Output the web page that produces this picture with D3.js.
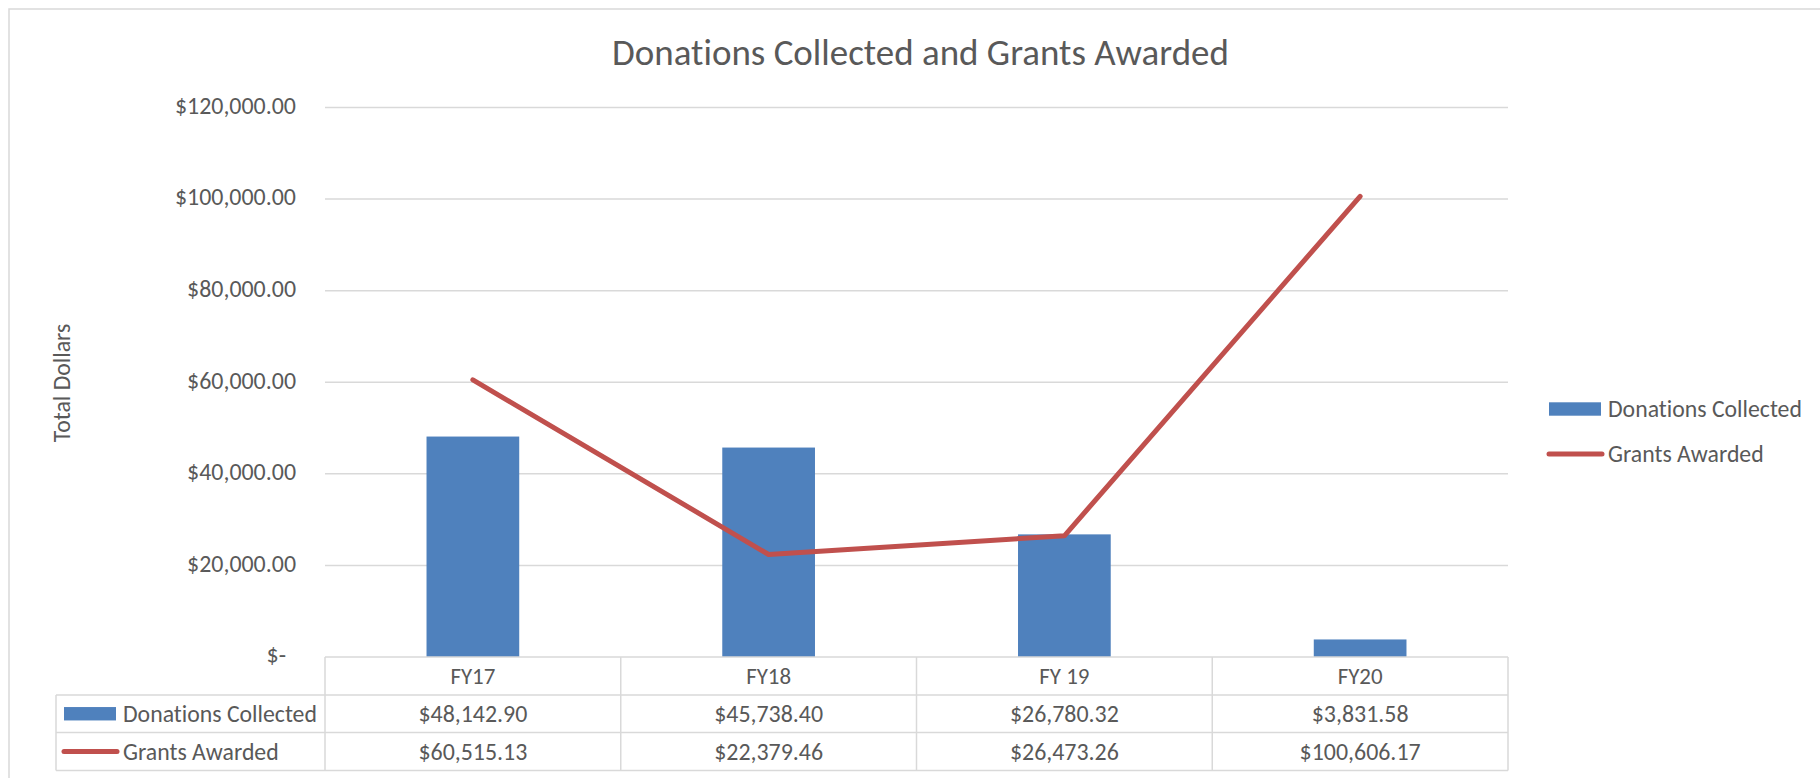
<!DOCTYPE html>
<html>
<head>
<meta charset="utf-8">
<script src="https://cdn.jsdelivr.net/npm/d3@7"></script>
<style>
  body { margin: 0; background: #fff; }
  text { font-family: Carlito, Calibri, Lato, sans-serif; fill: #595959; font-variant-ligatures: none; font-feature-settings: "liga" 0; }
</style>
</head>
<body>
<div id="vis"></div>
<script>
// chart data
const categories = ["FY17", "FY18", "FY 19", "FY20"];
const donations = [48142.90, 45738.40, 26780.32, 3831.58];
const grants = [60515.13, 22379.46, 26473.26, 100606.17];
const yTicks = [0, 20000, 40000, 60000, 80000, 100000, 120000];
const seriesNames = ["Donations Collected", "Grants Awarded"];

const width = 1820;
const height = 778;

// plot area
const plot = { left: 325, right: 1508, top: 107.5, bottom: 657 };
// table rows under the plot
const tableLeft = 56;
const rowLines = [657, 695, 732.5, 770.5];

const barColour = "#4F81BD";
const lineColour = "#C0504D";
const gridColour = "#D9D9D9";

const svg = d3.select("#vis").append("svg")
  .attr("width", width)
  .attr("height", height);

// Calibri isn't around, so size the fallback font to the widths Excel drew
function fitSize(sample, target) {
  const t = svg.append("text").style("font-size", "100px").text(sample);
  const w = t.node().getComputedTextLength();
  t.remove();
  return (100 * target / w).toFixed(2) + "px";
}
const titleSize = fitSize("Donations Collected and Grants Awarded", 617);
const labelSize = fitSize("Donations Collected", 194);
const numSize = fitSize("$48,142.90", 109);
const catSize = fitSize("FY17", 45);

// outer chart border (runs off the right and bottom of the window)
svg.append("rect")
  .attr("x", 9).attr("y", 9)
  .attr("width", width + 20).attr("height", height + 20)
  .attr("fill", "none")
  .attr("stroke", gridColour)
  .attr("stroke-width", 1.5);

const x = d3.scaleBand()
  .domain(categories)
  .range([plot.left, plot.right])
  .padding(0);

const y = d3.scaleLinear()
  .domain([0, 120000])
  .range([plot.bottom, plot.top]);

const money = d3.format("$,.2f");

// gridlines
svg.append("g").selectAll("line")
  .data(yTicks.filter(d => d > 0))
  .enter().append("line")
  .attr("x1", plot.left).attr("x2", plot.right)
  .attr("y1", d => y(d)).attr("y2", d => y(d))
  .attr("stroke", gridColour)
  .attr("stroke-width", 1.5);

// y axis labels
svg.append("g").selectAll("text")
  .data(yTicks)
  .enter().append("text")
  .attr("x", d => d === 0 ? 286 : 296)
  .attr("y", d => y(d) - 2)
  .attr("dy", "0.35em")
  .attr("text-anchor", "end")
  .style("font-size", numSize)
  .text(d => d === 0 ? "$-" : money(d));

// axis title
svg.append("text")
  .attr("transform", "translate(62,383) rotate(-90)")
  .attr("text-anchor", "middle")
  .attr("dy", "0.35em")
  .style("font-size", labelSize)
  .text("Total Dollars");

// chart title
svg.append("text")
  .attr("x", 920.5).attr("y", 64.5)
  .attr("text-anchor", "middle")
  .style("font-size", titleSize)
  .text("Donations Collected and Grants Awarded");

// bars (gap width ~219%)
const barW = x.bandwidth() / 3.19;
svg.append("g").selectAll("rect")
  .data(donations)
  .enter().append("rect")
  .attr("x", (d, i) => x(categories[i]) + (x.bandwidth() - barW) / 2)
  .attr("width", barW)
  .attr("y", d => y(d))
  .attr("height", d => y(0) - y(d))
  .attr("fill", barColour);

// line
const line = d3.line()
  .x((d, i) => x(categories[i]) + x.bandwidth() / 2)
  .y(d => y(d));

svg.append("path")
  .datum(grants)
  .attr("d", line)
  .attr("fill", "none")
  .attr("stroke", lineColour)
  .attr("stroke-width", 5)
  .attr("stroke-linejoin", "round")
  .attr("stroke-linecap", "round");

// data table
const table = svg.append("g");
const colEdges = categories.map(c => x(c)).concat([plot.right]);

// horizontal rules
rowLines.forEach((ry, i) => {
  table.append("line")
    .attr("x1", i === 0 ? plot.left : tableLeft).attr("x2", plot.right)
    .attr("y1", ry).attr("y2", ry)
    .attr("stroke", gridColour).attr("stroke-width", 1.5);
});
// vertical rules
table.append("line")
  .attr("x1", tableLeft).attr("x2", tableLeft)
  .attr("y1", rowLines[1]).attr("y2", rowLines[3])
  .attr("stroke", gridColour).attr("stroke-width", 1.5);
colEdges.forEach(cx => {
  table.append("line")
    .attr("x1", cx).attr("x2", cx)
    .attr("y1", rowLines[0]).attr("y2", rowLines[3])
    .attr("stroke", gridColour).attr("stroke-width", 1.5);
});

const rowMid = i => (rowLines[i] + rowLines[i + 1]) / 2;

// category row
table.selectAll(".cat")
  .data(categories)
  .enter().append("text")
  .attr("class", "cat")
  .attr("x", d => x(d) + x.bandwidth() / 2)
  .attr("y", rowMid(0))
  .attr("dy", "0.35em")
  .attr("text-anchor", "middle")
  .style("font-size", catSize)
  .text(d => d);

// value rows
[donations, grants].forEach((vals, r) => {
  table.selectAll(".val" + r)
    .data(vals)
    .enter().append("text")
    .attr("class", "val" + r)
    .attr("x", (d, i) => x(categories[i]) + x.bandwidth() / 2)
    .attr("y", rowMid(r + 1))
    .attr("dy", "0.35em")
    .attr("text-anchor", "middle")
    .style("font-size", numSize)
    .text(d => money(d));
});

// series keys drawn in the table and in the legend
function drawKey(g, i, kx, ky) {
  if (i === 0) {
    g.append("rect")
      .attr("x", kx).attr("y", ky - 6.7)
      .attr("width", 52).attr("height", 13.4)
      .attr("fill", barColour);
  } else {
    g.append("line")
      .attr("x1", kx).attr("x2", kx + 53)
      .attr("y1", ky).attr("y2", ky)
      .attr("stroke", lineColour)
      .attr("stroke-width", 5)
      .attr("stroke-linecap", "round");
  }
  g.append("text")
    .attr("x", kx + 59).attr("y", ky)
    .attr("dy", "0.35em")
    .style("font-size", labelSize)
    .text(seriesNames[i]);
}

seriesNames.forEach((n, i) => drawKey(table, i, 64, rowMid(i + 1)));

const legend = svg.append("g");
seriesNames.forEach((n, i) => drawKey(legend, i, 1549, 409 + i * 45));
</script>
</body>
</html>
